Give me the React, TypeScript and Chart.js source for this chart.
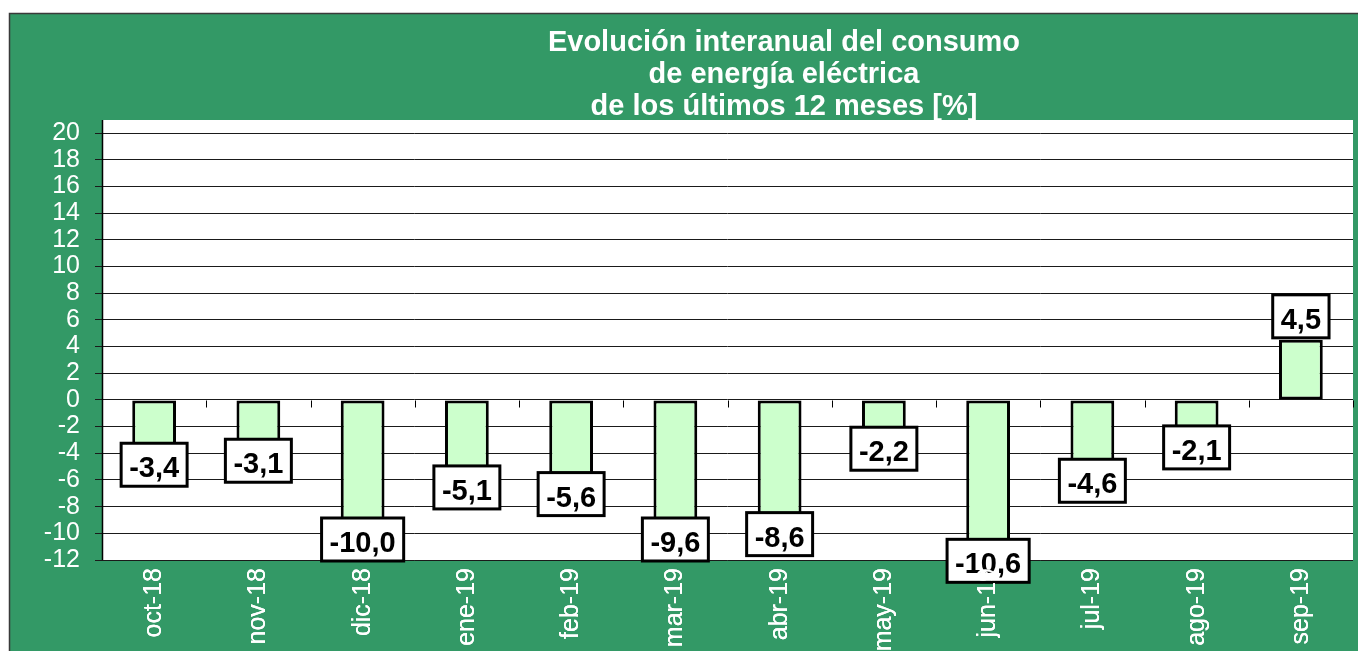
import React, { useEffect, useRef } from "react";
import { Chart, registerables } from "chart.js";

Chart.register(...registerables);

const categories = ["oct-18", "nov-18", "dic-18", "ene-19", "feb-19", "mar-19", "abr-19", "may-19", "jun-19", "jul-19", "ago-19", "sep-19"];
const values = [-3.4, -3.1, -10.0, -5.1, -5.6, -9.6, -8.6, -2.2, -10.6, -4.6, -2.1, 4.5];
const titleLines = ["Evolución interanual del consumo", "de energía eléctrica", "de los últimos 12 meses [%]"];
const yMin = -12;
const yMax = 20;
const yStep = 2;

const GREEN = "#339966";
const FONT = "'Liberation Sans', Arial, sans-serif";

const fmt = (v: number) => v.toFixed(1).replace(".", ",");

const decorPlugin = {
  id: "decor",
  beforeDraw(chart: any) {
    const { ctx, chartArea, width, height } = chart;
    ctx.save();
    ctx.fillStyle = "#ffffff";
    ctx.fillRect(0, 0, width, height);
    ctx.fillStyle = GREEN;
    ctx.fillRect(9, 13, width - 9, height - 13);
    ctx.strokeStyle = "#3a3a3a";
    ctx.lineWidth = 1.5;
    ctx.beginPath();
    ctx.moveTo(9.5, height);
    ctx.lineTo(9.5, 13.5);
    ctx.lineTo(width, 13.5);
    ctx.stroke();
    // title
    ctx.fillStyle = "#ffffff";
    ctx.font = `bold 29px ${FONT}`;
    ctx.textAlign = "center";
    ctx.textBaseline = "alphabetic";
    const cx = 784;
    titleLines.forEach((t, i) => ctx.fillText(t, cx, 51 + i * 32));
    // white plot area
    ctx.fillStyle = "#ffffff";
    ctx.fillRect(chartArea.left, chartArea.top - 13, chartArea.right - chartArea.left, chartArea.bottom - chartArea.top + 13);
    ctx.restore();
  },
  afterDraw(chart: any) {
    const { ctx, chartArea, scales } = chart;
    const xs = scales.x;
    const ys = scales.y;
    ctx.save();
    // left axis line
    ctx.strokeStyle = "#000";
    ctx.lineWidth = 1.5;
    ctx.beginPath();
    ctx.moveTo(chartArea.left + 0.5, chartArea.top - 13);
    ctx.lineTo(chartArea.left + 0.5, chartArea.bottom);
    ctx.stroke();
    // category ticks on the zero line
    const y0 = Math.round(ys.getPixelForValue(0)) + 0.5;
    const n = categories.length;
    const step = xs.getPixelForValue(1) - xs.getPixelForValue(0);
    ctx.lineWidth = 1;
    ctx.strokeStyle = "#000";
    for (let i = 0; i <= n; i++) {
      const px = Math.round(xs.getPixelForValue(0) - step / 2 + i * step) + 0.5;
      ctx.beginPath();
      ctx.moveTo(px, y0);
      ctx.lineTo(px, y0 + 7);
      ctx.stroke();
    }
    // data labels
    const meta = chart.getDatasetMeta(0);
    ctx.font = `bold 29px ${FONT}`;
    ctx.textAlign = "center";
    ctx.textBaseline = "alphabetic";
    meta.data.forEach((bar: any, i: number) => {
      const v = values[i];
      const text = fmt(v);
      const tw = ctx.measureText(text).width;
      const bw = tw + 16;
      const bh = 43;
      let top: number;
      if (v >= 0) {
        top = bar.y - 2 - bh;
      } else {
        top = bar.y - 2;
        if (top + bh > chartArea.bottom + 1 && v > -10.5) top = chartArea.bottom + 1 - bh;
      }
      const left = bar.x - bw / 2;
      ctx.fillStyle = "#ffffff";
      ctx.fillRect(left, top, bw, bh);
      ctx.strokeStyle = "#000";
      ctx.lineWidth = 3;
      ctx.strokeRect(left, top, bw, bh);
      ctx.fillStyle = "#000";
      ctx.fillText(text, bar.x, top + 34);
    });
    ctx.restore();
    // category labels drawn on top of the data label boxes
    if (typeof xs.drawLabels === "function") xs.drawLabels(chartArea);
  },
};

export default function App() {
  const ref = useRef<HTMLCanvasElement | null>(null);
  useEffect(() => {
    if (!ref.current) return;
    const chart = new Chart(ref.current, {
      type: "bar",
      data: {
        labels: categories,
        datasets: [
          {
            data: values,
            backgroundColor: "#CCFFCC",
            borderColor: "#000000",
            borderWidth: 3,
            borderSkipped: false,
            categoryPercentage: 1,
            barPercentage: 0.42,
          },
        ],
      },
      options: {
        responsive: false,
        animation: false,
        devicePixelRatio: 1,
        layout: { padding: { top: 133, right: 5, left: 0, bottom: 0 } },
        plugins: {
          legend: { display: false },
          title: { display: false },
          tooltip: { enabled: false },
        },
        scales: {
          x: {
            grid: { display: false, drawTicks: false },
            border: { display: false },
            ticks: {
              color: "#ffffff",
              font: { family: FONT, size: 25 },
              minRotation: 90,
              maxRotation: 90,
              autoSkip: false,
              padding: 8,
            },
            afterFit: (s: any) => {
              s.height = 91;
            },
          },
          y: {
            min: yMin,
            max: yMax,
            grid: { color: "#1a1a1a", lineWidth: 1, tickLength: 7, drawTicks: true },
            border: { display: false },
            ticks: {
              stepSize: yStep,
              autoSkip: false,
              color: "#ffffff",
              font: { family: FONT, size: 25 },
              padding: 15,
              callback: (v: any) => String(v),
            },
            afterFit: (s: any) => {
              s.width = 102;
            },
          },
        },
      },
      plugins: [decorPlugin],
    });
    return () => chart.destroy();
  }, []);
  return (
    <canvas
      ref={ref}
      width={1358}
      height={651}
      style={{ position: "absolute", left: 0, top: 0, width: 1358, height: 651 }}
    />
  );
}
